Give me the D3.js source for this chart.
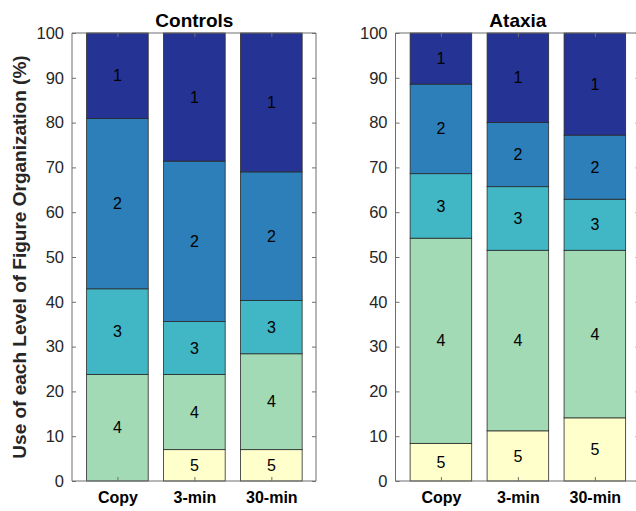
<!DOCTYPE html>
<html><head><meta charset="utf-8">
<script src="https://cdn.jsdelivr.net/npm/d3@7"></script>
<style>body{margin:0;background:#fff}svg{display:block}</style>
</head><body>
<svg id="c" width="636" height="511"></svg>
<script>
const categories = ["Copy", "3-min", "30-min"];
const levels = ["1", "2", "3", "4", "5"];
const yTicks = [0, 10, 20, 30, 40, 50, 60, 70, 80, 90, 100];
const levelColors = ["#253494", "#2c7fb8", "#41b6c4", "#a1dab4", "#ffffcc"];

// Controls: percentages per level, per category
const controlsL1 = [19.1, 28.6, 31.0];
const controlsL2 = [38.0, 35.8, 28.7];
const controlsL3 = [19.1, 11.8, 11.9];
const controlsL4 = [23.8, 16.8, 21.4];
const controlsL5 = [0.0, 7.0, 7.0];

// Ataxia
const ataxiaL1 = [11.4, 20.0, 22.8];
const ataxiaL2 = [20.0, 14.3, 14.3];
const ataxiaL3 = [14.4, 14.2, 11.4];
const ataxiaL4 = [45.8, 40.3, 37.4];
const ataxiaL5 = [8.4, 11.2, 14.1];

const panels = [
  {title: "Controls", series: [controlsL1, controlsL2, controlsL3, controlsL4, controlsL5], left: 72},
  {title: "Ataxia", series: [ataxiaL1, ataxiaL2, ataxiaL3, ataxiaL4, ataxiaL5], left: 395.5}
];

(function () {
const svg = d3.select("#c");
const W = 244, T = 33, B = 481;
const y = d3.scaleLinear().domain([0, 100]).range([B, T]);
const axisColor = "#6e6e6e";
const font = "'Liberation Sans', Arial, Helvetica, sans-serif";

panels.forEach(p => {
  const x = d3.scaleLinear().domain([0.41, 3.58]).range([p.left, p.left + W]);
  const g = svg.append("g");
  const bw = x(1.4) - x(0.6);
  categories.forEach((cat, ci) => {
    let base = 0;
    for (let li = levels.length - 1; li >= 0; li--) {
      const v = p.series[li][ci];
      if (v <= 0) continue;
      const y0 = base, y1 = base + v;
      g.append("rect")
        .attr("x", x(ci + 1) - bw / 2)
        .attr("y", y(y1))
        .attr("width", bw)
        .attr("height", y(y0) - y(y1))
        .attr("fill", levelColors[li])
        .attr("stroke", "#2a2a2a")
        .attr("stroke-width", 0.8);
      g.append("text")
        .attr("x", x(ci + 1))
        .attr("y", y((y0 + y1) / 2))
        .attr("dy", "0.35em")
        .attr("text-anchor", "middle")
        .attr("font-family", font)
        .attr("font-size", 16)
        .attr("fill", "#000")
        .text(levels[li]);
      base = y1;
    }
  });
  const L = p.left, R = p.left + W;
  const box = g.append("g").attr("stroke", axisColor).attr("stroke-width", 1).attr("fill", "none");
  box.append("path").attr("d", `M${L},${T}H${R}V${B}H${L}Z`);
  const yAxis = d3.axisLeft(y).tickValues(yTicks).tickSize(-4).tickPadding(8);
  const ya = g.append("g").attr("transform", `translate(${L},0)`).call(yAxis);
  ya.select(".domain").remove();
  ya.selectAll("line").attr("stroke", axisColor);
  ya.selectAll("text").attr("font-family", font).attr("font-size", 16.5).attr("fill", "#262626");
  const yr = g.append("g").attr("transform", `translate(${R},0)`).call(d3.axisRight(y).tickValues(yTicks).tickSize(-4).tickFormat(""));
  yr.select(".domain").remove();
  yr.selectAll("line").attr("stroke", axisColor);
  const xt = [1, 2, 3];
  const xAxis = d3.axisBottom(x).tickValues(xt).tickSize(-4).tickPadding(11).tickFormat((d, i) => categories[i]);
  const xa = g.append("g").attr("transform", `translate(0,${B})`).call(xAxis);
  xa.select(".domain").remove();
  xa.selectAll("line").attr("stroke", axisColor);
  xa.selectAll("text").attr("font-family", font).attr("font-size", 16).attr("font-weight", "bold").attr("fill", "#000");
  const xtop = g.append("g").attr("transform", `translate(0,${T})`).call(d3.axisTop(x).tickValues(xt).tickSize(-4).tickFormat(""));
  xtop.select(".domain").remove();
  xtop.selectAll("line").attr("stroke", axisColor);
  g.append("text")
    .attr("x", x(2)).attr("y", 26.5)
    .attr("text-anchor", "middle")
    .attr("font-family", font).attr("font-size", 19).attr("font-weight", "bold")
    .attr("fill", "#000")
    .text(p.title);
});

svg.append("text")
  .attr("transform", `translate(26,${(T + B) / 2}) rotate(-90)`)
  .attr("text-anchor", "middle")
  .attr("font-family", font).attr("font-size", 19).attr("font-weight", "bold")
  .attr("fill", "#262626")
  .text("Use of each Level of Figure Organization (%)");
})();
</script>
</body></html>
